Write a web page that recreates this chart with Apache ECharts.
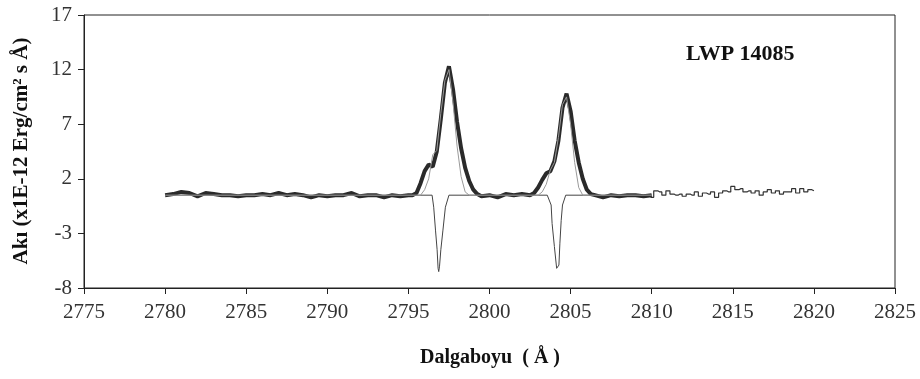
<!DOCTYPE html>
<html><head><meta charset="utf-8">
<script src="https://cdn.jsdelivr.net/npm/echarts@6/dist/echarts.min.js"></script>
<style>html,body{margin:0;padding:0;background:#fff}#c{width:920px;height:379px}</style>
</head><body><div id="c"></div>
<script>
// Observed spectrum (thick line), wavelength in Å
var obsWave = [2780,2780.5,2781,2781.5,2782,2782.5,2783,2783.5,2784,2784.5,2785,2785.5,2786,2786.5,2787,2787.5,2788,2788.5,2789,2789.5,2790,2790.5,2791,2791.5,2792,2792.5,2793,2793.5,2794,2794.5,2795,
  2795.25,2795.5,2795.75,2796,2796.25,2796.5,2796.75,2797,2797.25,2797.5,2797.75,2798,2798.25,2798.5,2798.75,2799,2799.25,2799.5,
  2800,2800.5,2801,2801.5,2802,2802.5,
  2802.75,2803,2803.25,2803.5,2803.75,2804,2804.25,2804.5,2804.75,2805,2805.25,2805.5,2805.75,2806,2806.25,2806.5,
  2807,2807.5,2808,2808.5,2809,2809.5,2810];
var obsFlux = [0.5,0.6,0.8,0.7,0.4,0.7,0.6,0.5,0.5,0.4,0.5,0.5,0.6,0.5,0.7,0.5,0.6,0.5,0.3,0.5,0.4,0.5,0.5,0.7,0.4,0.5,0.5,0.3,0.5,0.4,0.5,
  0.5,0.7,1.6,2.7,3.3,3.1,4.5,7.5,10.8,12.3,10.2,7.2,4.8,3.0,1.8,1.0,0.6,0.4,
  0.5,0.3,0.6,0.5,0.6,0.5,
  0.7,1.2,1.9,2.5,2.7,3.6,5.5,8.5,9.8,8.2,5.5,3.5,2.0,1.0,0.6,0.5,
  0.3,0.5,0.4,0.5,0.5,0.4,0.5];
// Thin continuation of the spectrum
var tailWave = [2809.5,2809.75,2810,2810.25,2810.5,2810.75,2811,2811.25,2811.5,2811.75,2812,2812.25,2812.5,2812.75,2813,2813.25,2813.5,2813.75,2814,2814.25,2814.5,2814.75,2815,2815.25,2815.5,2815.75,2816,2816.25,2816.5,2816.75,2817,2817.25,2817.5,2817.75,2818,2818.25,2818.5,2818.75,2819,2819.25,2819.5,2819.75,2820];
var tailFlux = [0.5,0.4,0.3,0.9,0.8,0.5,0.9,0.6,0.5,0.6,0.4,0.6,0.5,0.8,0.4,0.7,0.6,0.8,0.3,0.7,0.9,0.8,1.3,1.0,1.1,0.8,0.9,0.7,0.9,0.5,0.8,1.0,0.7,0.9,0.6,0.8,0.8,1.1,0.7,1.1,0.8,1.0,0.9];
// Emission model component (gray)
var emisWave = [2780,2795.75,2796,2796.25,2796.5,2796.75,2797,2797.25,2797.5,2797.75,2798,2798.25,2798.5,2798.75,
  2803,2803.25,2803.5,2803.75,2804,2804.25,2804.5,2804.75,2805,2805.25,2805.5,2805.75,2810];
var emisFlux = [0.5,0.5,1.0,2.0,4.2,4.6,8.0,11.0,12.0,9.0,5.0,2.2,0.8,0.5,
  0.5,0.8,1.5,2.8,3.5,5.8,8.8,9.5,7.0,3.5,1.2,0.5,0.5];
// Absorption component
var absWave = [2780,2796.46,2796.56,2796.67,2796.77,2796.83,2796.87,2796.92,2797.0,2797.13,2797.28,2797.5,
  2803.56,2803.8,2803.86,2804.0,2804.14,2804.28,2804.34,2804.42,2804.5,2804.7,2810];
var absFlux = [0.5,0.5,-0.6,-2.7,-4.5,-6.2,-6.5,-6.0,-4.5,-2.7,-0.6,0.5,
  0.5,-0.4,-2.1,-4.2,-6.2,-5.9,-3.9,-1.8,-0.4,0.5,0.5];
var xTicks = [2775,2780,2785,2790,2795,2800,2805,2810,2815,2820,2825];
var yTicks = [-8,-3,2,7,12,17];

function zip(a,b){return a.map(function(v,i){return [v,b[i]];});}

var chart = echarts.init(document.getElementById('c'));
var serif = "'Liberation Serif','Times New Roman',serif";
chart.setOption({
  animation:false,
  grid:{left:84,right:25,top:15,bottom:91,show:true,borderColor:'#222',borderWidth:1,backgroundColor:'transparent'},
  xAxis:{type:'value',min:xTicks[0],max:xTicks[xTicks.length-1],interval:5,
    axisLine:{onZero:false,lineStyle:{color:'#222',width:1}},axisTick:{length:6,lineStyle:{color:'#222'}},
    splitLine:{show:false},
    axisLabel:{fontFamily:serif,fontSize:21,color:'#333',margin:14,formatter:function(v){return String(v);}}},
  yAxis:{type:'value',min:yTicks[0],max:yTicks[yTicks.length-1],interval:5,
    axisLine:{show:true,onZero:false,lineStyle:{color:'#222',width:1}},axisTick:{show:true,length:6,lineStyle:{color:'#222'}},
    splitLine:{show:false},
    axisLabel:{fontFamily:serif,fontSize:21,color:'#333',margin:12,formatter:function(v){return String(v);}}},
  graphic:[
    {type:'text',left:686,top:43,style:{text:'LWP 14085',font:"bold 22px 'Liberation Serif'",fill:'#111'}},
    {type:'text',x:490,y:358,style:{text:'Dalgaboyu  ( Å )',font:"bold 20px 'Liberation Serif'",fill:'#111',textAlign:'center',textVerticalAlign:'middle'}},
    {type:'text',x:22,y:151,rotation:Math.PI/2,style:{text:'Akı (x1E-12 Erg/cm² s Å)',font:"bold 21px 'Liberation Serif'",fill:'#111',textAlign:'center',textVerticalAlign:'middle'}}
  ],
  series:[
    {type:'line',data:zip(tailWave,tailFlux),step:'middle',showSymbol:false,lineStyle:{color:'#333',width:1.2},z:2},
    {type:'line',data:zip(obsWave,obsFlux),showSymbol:false,lineStyle:{color:'#2a2a2a',width:4},z:3},
    {type:'line',data:zip(absWave,absFlux),showSymbol:false,lineStyle:{color:'#444',width:1},z:4},
    {type:'line',data:zip(emisWave,emisFlux),showSymbol:false,lineStyle:{color:'#999',width:1},z:5}
  ]
});
</script></body></html>
